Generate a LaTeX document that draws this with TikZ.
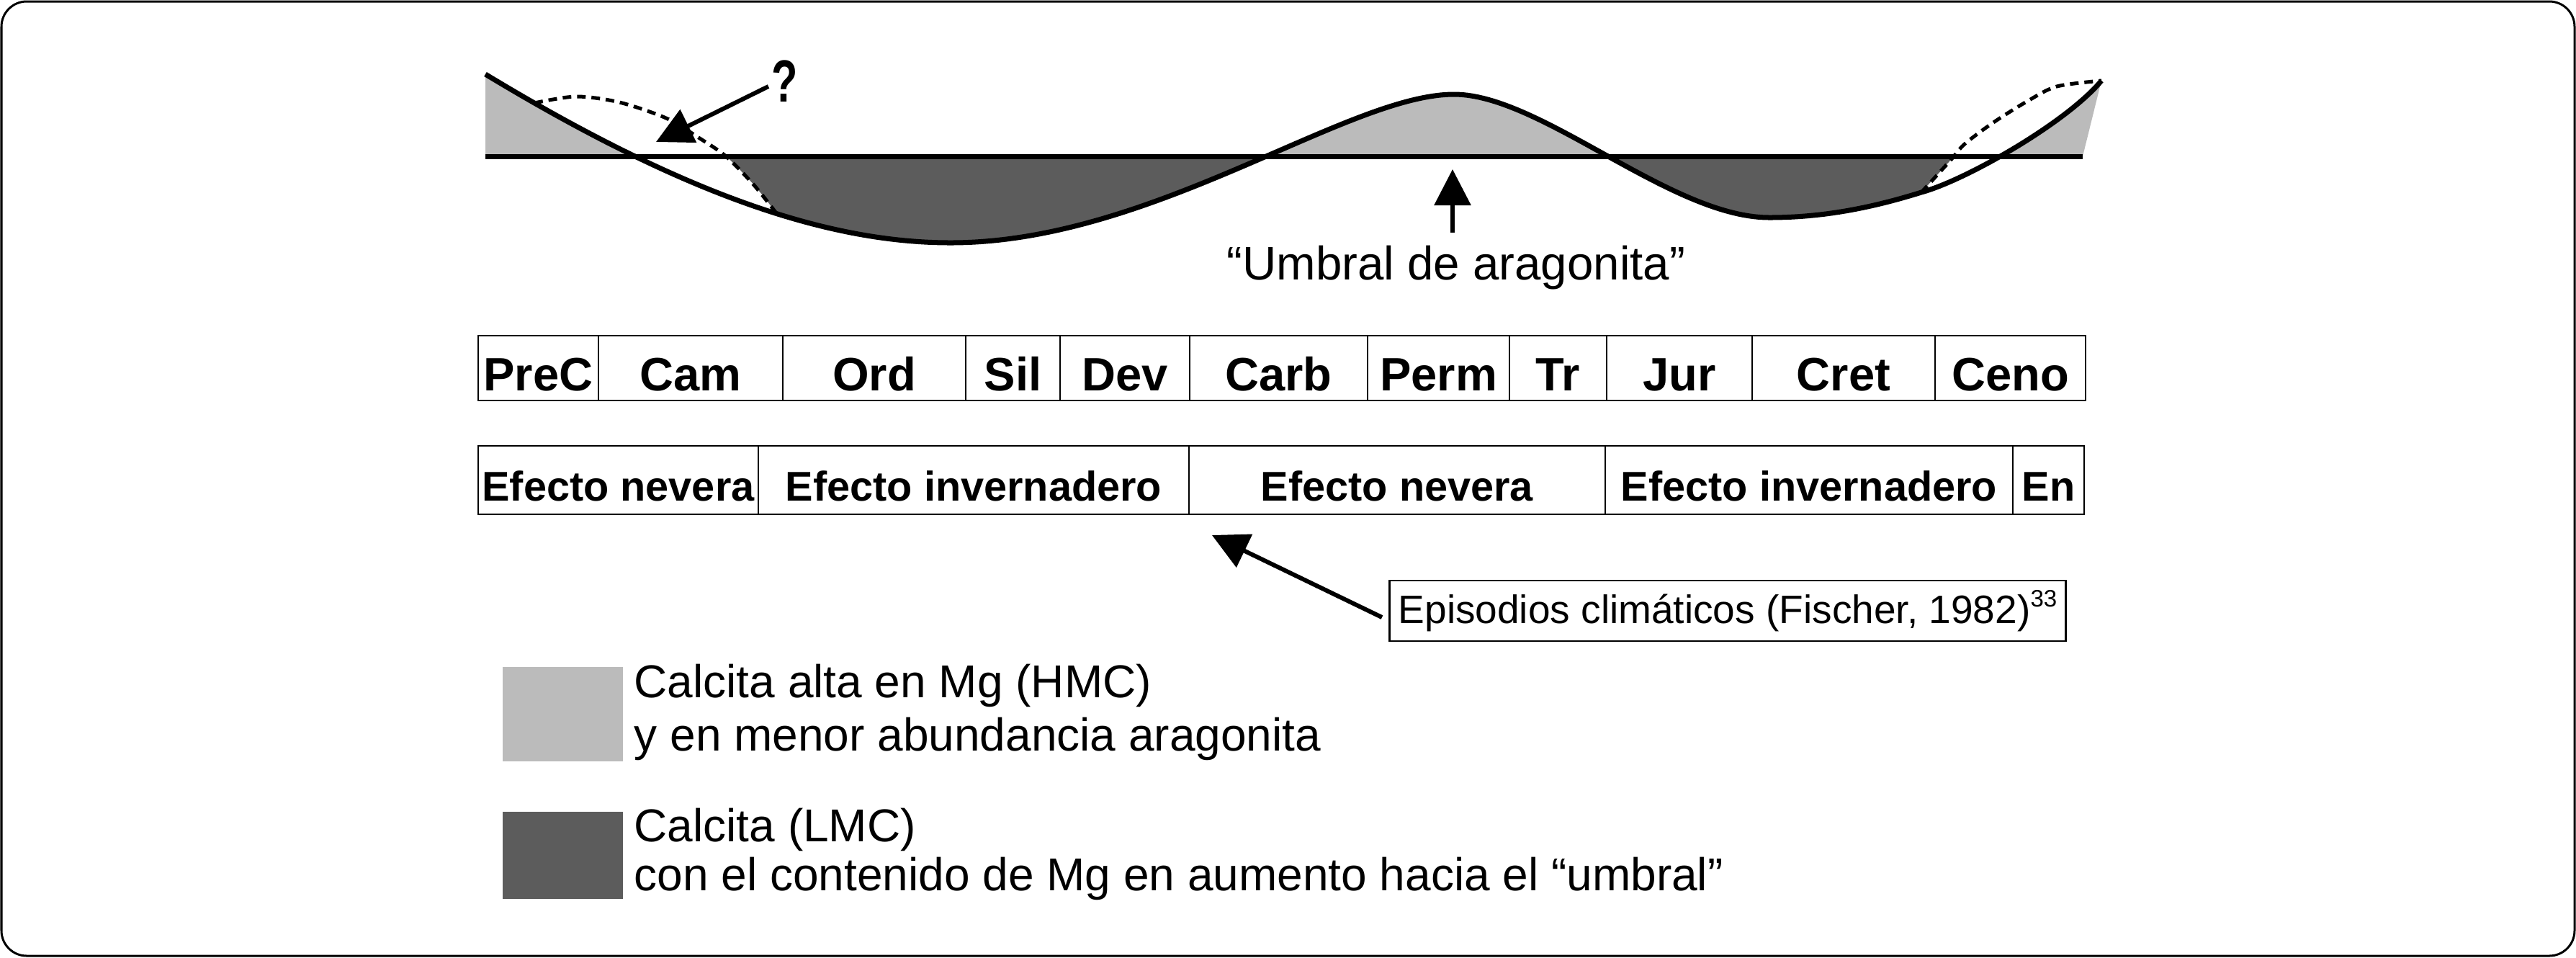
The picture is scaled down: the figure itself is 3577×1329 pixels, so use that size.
\documentclass[tikz,border=0pt]{standalone}
\usepackage{fontspec}
\setmainfont{Liberation Sans}
\usetikzlibrary{arrows.meta}
\definecolor{lightg}{RGB}{187,187,187}
\definecolor{darkg}{RGB}{92,92,92}
\newcommand\periodfont{\fontsize{18.5pt}{20pt}\selectfont\bfseries}
\newcommand\efectofont{\fontsize{16.4pt}{18pt}\selectfont\bfseries}
\newcommand\legfont{\fontsize{18.2pt}{20pt}\selectfont}
\newcommand\umbfont{\fontsize{18.6pt}{20pt}\selectfont}
\newcommand\epifont{\fontsize{15.65pt}{18pt}\selectfont}
\newcommand\qfont{\fontsize{23.5pt}{24pt}\selectfont\bfseries}
\def\solidcurve{(674,103) .. controls (950,270) and (1150,337) .. (1320,337) .. controls (1600,337) and (1870,131) .. (2019,131) .. controls (2140,131) and (2320,302) .. (2457,302) .. controls (2540,302) and (2610,285) .. (2668,267) .. controls (2730,250) and (2870,170) .. (2918,112)}
\def\dashL{plot[smooth] coordinates {(742,143) (800,134) (860,142) (925,164) (970,191) (1008,217) (1047,257) (1078,296)}}
\def\dashR{plot[smooth] coordinates {(2668,267) (2708,223) (2728,200) (2768,170) (2816,140) (2856,120) (2918,112)}}
\tikzset{
  cell/.style={draw, line width=0.025cm, inner sep=0pt, minimum height=0.9cm, text height=0.62cm, text depth=0pt, font=\periodfont},
  ecell/.style={draw, line width=0.025cm, inner sep=0pt, minimum height=0.95cm, text height=0.57cm, text depth=0pt, font=\efectofont},
  arr/.style={line width=0.06cm, -{Triangle[length=0.5cm, width=0.5cm]}},
  legtext/.style={anchor=base west, inner sep=0pt, font=\legfont},
  curveline/.style={line width=0.07cm},
  dashline/.style={line width=0.05cm, dash pattern=on 0.12cm off 0.08cm}
}
\begin{document}
\begin{tikzpicture}[x=0.01cm, y=-0.01cm]
\useasboundingbox (0,0) rectangle (3577,1329);
\draw[line width=0.03cm, rounded corners=0.35cm] (2,2) rectangle (3575,1327);

% fills of the curve
\begin{scope}
  \clip (600,0) rectangle (3000,217);
  \fill[lightg] \solidcurve -- (2892,217) -- (674,217) -- cycle;
\end{scope}
\begin{scope}
  \clip (600,217) rectangle (3000,460);
  \fill[darkg] \solidcurve -- (2892,217) -- (674,217) -- cycle;
  \fill[white] \dashL -- (1078,460) -- (700,460) -- (700,143) -- cycle;
  \fill[white] \dashR -- (2960,112) -- (2960,460) -- (2668,460) -- cycle;
\end{scope}
\draw[dashline] \dashL;
\draw[dashline] \dashR;
\draw[curveline] \solidcurve;
\draw[curveline] (674,217) -- (2892,217);

% question mark arrow
\node[font=\qfont, xscale=0.72, inner sep=0pt] (q) at (1090,113) {?};
\coordinate (qtail) at (1067,120);
\coordinate (qtip) at (911,197);
\draw[arr] (qtail) -- (qtip);

% umbral
\node[anchor=base, inner sep=0pt, font=\umbfont] (umb) at (2022,388) {“Umbral de aragonita”};
\coordinate (umbtail) at (2017,323);
\coordinate (umbtip) at (2017,235);
\draw[arr] (umbtail) -- (umbtip);

% periods
\node[cell, minimum width=1.67cm] (prec) at (747.5,511) {PreC};
\node[cell, minimum width=2.56cm] (cam) at (959,511) {Cam};
\node[cell, minimum width=2.54cm] (ord) at (1214,511) {Ord};
\node[cell, minimum width=1.31cm] (sil) at (1406.5,511) {Sil};
\node[cell, minimum width=1.80cm] (dev) at (1562,511) {Dev};
\node[cell, minimum width=2.47cm] (carb) at (1775.5,511) {Carb};
\node[cell, minimum width=1.97cm] (perm) at (1997.5,511) {Perm};
\node[cell, minimum width=1.35cm] (tr) at (2163.5,511) {Tr};
\node[cell, minimum width=2.02cm] (jur) at (2332,511) {Jur};
\node[cell, minimum width=2.54cm] (cret) at (2560,511) {Cret};
\node[cell, minimum width=2.09cm] (ceno) at (2791.5,511) {Ceno};

% climate
\node[ecell, minimum width=3.89cm] (e1) at (858.5,666.5) {Efecto nevera};
\node[ecell, minimum width=5.98cm] (e2) at (1352,666.5) {Efecto invernadero};
\node[ecell, minimum width=5.78cm] (e3) at (1940,666.5) {Efecto nevera};
\node[ecell, minimum width=5.66cm] (e4) at (2512,666.5) {Efecto invernadero};
\node[ecell, minimum width=0.99cm] (e5) at (2844.5,666.5) {En};

% episodios
\node[draw, line width=0.025cm, minimum width=9.38cm, minimum height=0.84cm, inner sep=0pt, font=\epifont] (epi) at (2399,848) {Episodios climáticos (Fischer, 1982)\raisebox{0.42em}{\fontsize{9.4pt}{10pt}\selectfont 33}};
\coordinate (epitail) at (1919,857);
\coordinate (epitip) at (1683,743);
\draw[arr] (epitail) -- (epitip);

% legend
\node[fill=lightg, minimum width=1.67cm, minimum height=1.31cm, inner sep=0pt] (lga) at (781.5,991.5) {};
\node[fill=darkg, minimum width=1.67cm, minimum height=1.21cm, inner sep=0pt] (lgb) at (781.5,1187.5) {};
\node[legtext] (la1) at (880,968) {Calcita alta en Mg (HMC)};
\node[legtext] (la2) at (880,1042) {y en menor abundancia aragonita};
\node[legtext] (lb1) at (880,1168) {Calcita (LMC)};
\node[legtext] (lb2) at (880,1236) {con el contenido de Mg en aumento hacia el “umbral”};
\end{tikzpicture}
\end{document}
